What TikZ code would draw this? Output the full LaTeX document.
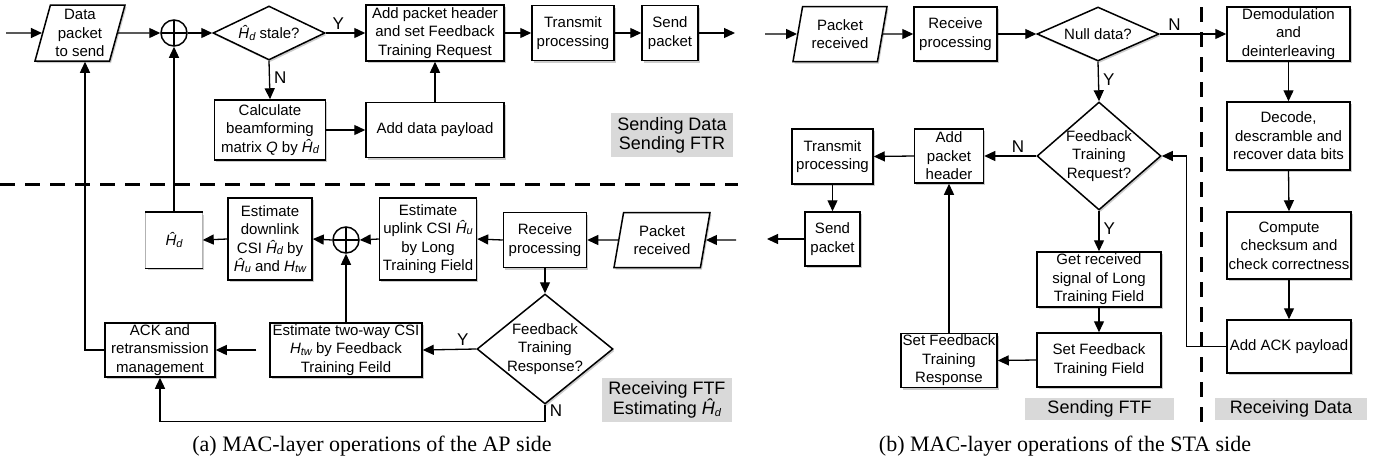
\documentclass[tikz,border=0pt]{standalone}
\usepackage{fontspec}
\setmainfont{Liberation Sans}
\newfontfamily\capfont{Liberation Serif}
\usetikzlibrary{arrows.meta,shapes.geometric,shadows}
\newcommand\mysub[1]{\raisebox{-1.2pt}{\fontsize{11}{11}\selectfont\itshape #1}}
\newcommand\hatHd{{\itshape Ĥ}\mysub{d}}
\newcommand\hatHu{{\itshape Ĥ}\mysub{u}}
\newcommand\myHtw{{\itshape H}\mysub{tw}}
\tikzset{
 shad/.style={drop shadow={shadow xshift=1.5pt, shadow yshift=-2pt, opacity=0.4}},
 bx/.style={draw, line width=1.5pt, fill=white, align=center, inner sep=0pt, font=\fontsize{15}{18.5}\selectfont, shad},
 pgram/.style={bx, trapezium, trapezium left angle=72, trapezium right angle=108, trapezium stretches body},
 dia/.style={draw, line width=1.5pt, fill=white, diamond, inner sep=0pt, shad},
 diatext/.style={align=center, inner sep=0pt, font=\fontsize{15}{18.5}\selectfont},
 plus/.style={circle, draw, line width=1.5pt, fill=white, minimum size=26pt, inner sep=0pt,
   path picture={\draw[line width=1.3pt] (path picture bounding box.north) -- (path picture bounding box.south)
   (path picture bounding box.west) -- (path picture bounding box.east);}},
 arr/.style={line width=1.3pt, -{Triangle[length=11pt,width=10pt]}},
 yn/.style={font=\fontsize{17}{17}\selectfont, inner sep=0pt},
 graylab/.style={fill=black!15, align=center, inner sep=0pt, font=\fontsize{18}{19}\selectfont},
 sep/.style={line width=3pt, dash pattern=on 15pt off 10pt},
 captxt/.style={font=\capfont\fontsize{22}{22}\selectfont, inner sep=0pt},
}
\begin{document}
\begin{tikzpicture}[x=1pt,y=-1pt]
\useasboundingbox (0,0) rectangle (1380,464);
% ---------------- AP side ----------------
\coordinate (in1) at (6,33);
\coordinate (out1) at (735,33);
\node[pgram, minimum width=90pt, minimum height=56pt] (data) at (80,33) {Data\\packet\\to send};
\node[plus] (c1) at (174,33) {};
\node[dia, minimum width=112pt, minimum height=54pt] (stale) at (269,33) {};
\node[diatext] (stalet) at (stale) {\hatHd\ stale?};
\node[bx, minimum width=138pt, minimum height=56pt] (hdr) at (435,33) {Add packet header\\and set Feedback\\Training Request};
\node[bx, minimum width=82pt, minimum height=55pt] (txp) at (573,33) {Transmit\\processing};
\node[bx, minimum width=56pt, minimum height=55pt] (snd) at (670,33) {Send\\packet};
\node[bx, minimum width=111pt, minimum height=60pt] (calc) at (270,130) {Calculate\\beamforming\\matrix \textit{Q} by \hatHd};
\node[bx, minimum width=138pt, minimum height=55pt] (pay) at (435,130) {Add data payload};
\node[graylab, minimum width=122pt, minimum height=44pt] (g1) at (672,135) {Sending Data\\Sending FTR};

\draw[sep] (0,184) -- (738,184);

\node[bx, draw=none, minimum width=56pt, minimum height=55pt] (hd) at (174,240) {\hatHd};
\draw[line width=1.2pt, black!30] (hd.north west) -- (hd.south west) (hd.north east) -- (hd.south east);
\draw[line width=1.5pt] (hd.north west) -- (hd.north east) (hd.south west) -- (hd.south east);
\node[bx, minimum width=84pt, minimum height=82pt] (dl) at (270,239) {Estimate\\downlink\\CSI \hatHd\ by\\\hatHu\ and \myHtw};
\node[plus] (c2) at (346,240) {};
\node[bx, minimum width=97pt, minimum height=82pt] (ul) at (428,239) {Estimate\\uplink CSI \hatHu\\by Long\\Training Field};
\node[bx, minimum width=83pt, minimum height=55pt] (rxp) at (545,240) {Receive\\processing};
\node[pgram, minimum width=96pt, minimum height=55pt] (pkt) at (662,240) {Packet\\received};
\coordinate (in2) at (736,240);
\node[dia, minimum width=136pt, minimum height=110pt] (resp) at (545,349) {};
\node[diatext] (respt) at (resp) {Feedback\\Training\\Response?};
\node[bx, minimum width=152pt, minimum height=54pt] (tw) at (346,350) {Estimate two-way CSI\\\myHtw\ by Feedback\\Training Feild};
\node[bx, minimum width=110pt, minimum height=54pt] (ack) at (160,350) {ACK and\\retransmission\\management};
\node[graylab, minimum width=130pt, minimum height=44pt] (g2) at (667,400) {Receiving FTF\\Estimating \hatHd};
\node[captxt] (capa) at (372,446) {(a) MAC-layer operations of the AP side};

\draw[arr] (in1) -- (data.west);
\draw[arr] (data.east) -- (c1.west);
\draw[arr] (c1.east) -- (stale.west);
\draw[arr] (stale.east) -- node[yn, above=3pt, pos=0.32] {Y} (hdr.west);
\draw[arr] (stale.south) -- node[yn, right=4pt, pos=0.45] {N} (calc.north);
\draw[arr] (calc.east) -- (pay.west);
\draw[arr] (pay.north) -- (hdr.south);
\draw[arr] (hdr.east) -- (txp.west);
\draw[arr] (txp.east) -- (snd.west);
\draw[arr] (snd.east) -- (out1);
\draw[arr] (in2) -- (pkt.east);
\draw[arr] (pkt.west) -- (rxp.east);
\draw[arr] (rxp.west) -- (ul.east);
\draw[arr] (ul.west) -- (c2.east);
\draw[arr] (c2.west) -- (dl.east);
\draw[arr] (dl.west) -- (hd.east);
\draw[arr] (hd.north) -- (c1.south);
\draw[arr] (rxp.south) -- (resp.north);
\draw[arr] (resp.west) -- node[yn, above=3pt, pos=0.25] {Y} (tw.east);
\draw[arr] (tw.north) -- (c2.south);
\draw[arr, shorten <=13pt] (tw.west) -- (ack.east);
\draw[arr] (resp.south) -- ++(0,17) -| (ack.south);
\node[yn] at ([xshift=11pt, yshift=-6pt]resp.south) {N};
\draw[arr] (ack.west) -| ([xshift=5pt]data.south);

% ---------------- STA side ----------------
\coordinate (in3) at (765,34);
\coordinate (out2) at (767,239);
\node[pgram, minimum width=94pt, minimum height=55pt] (pkt2) at (840,34) {Packet\\received};
\node[bx, minimum width=83pt, minimum height=54pt] (rxp2) at (955.5,34) {Receive\\processing};
\node[dia, minimum width=122pt, minimum height=54pt] (null) at (1098,34) {};
\node[diatext] (nullt) at (null) {Null data?};
\node[bx, minimum width=123pt, minimum height=54pt] (dem) at (1288.5,34) {Demodulation\\and\\deinterleaving};
\node[bx, minimum width=123pt, minimum height=68pt] (dec) at (1288.5,136) {Decode,\\descramble and\\recover data bits};
\node[bx, minimum width=124pt, minimum height=67pt] (chk) at (1289,245.5) {Compute\\checksum and\\check correctness};
\node[bx, minimum width=124pt, minimum height=53pt] (ackp) at (1289,346.5) {Add ACK payload};
\node[dia, minimum width=124pt, minimum height=108pt] (req) at (1099,156) {};
\node[diatext] (reqt) at (req) {Feedback\\Training\\Request?};
\node[bx, minimum width=69pt, minimum height=54pt] (ah) at (949,156) {Add\\packet\\header};
\node[bx, minimum width=81pt, minimum height=55pt] (txp2) at (832.5,156.5) {Transmit\\processing};
\node[bx, minimum width=55pt, minimum height=54pt] (snd2) at (832.5,239) {Send\\packet};
\node[bx, minimum width=124pt, minimum height=55pt] (gs) at (1099,279.5) {Get received\\signal of Long\\Training Field};
\node[bx, minimum width=124pt, minimum height=54pt] (sf) at (1099,360) {Set Feedback\\Training Field};
\node[bx, minimum width=96pt, minimum height=54pt] (sr) at (949,360.5) {Set Feedback\\Training\\Response};
\node[graylab, minimum width=149pt, minimum height=22pt] (g3) at (1099.5,408.5) {Sending FTF};
\node[graylab, minimum width=152pt, minimum height=22pt] (g4) at (1291,408.5) {Receiving Data};
\draw[sep] (1201,7) -- (1201,422);
\node[captxt] (capb) at (1065,446) {(b) MAC-layer operations of the STA side};

\draw[arr] (in3) -- (pkt2.west);
\draw[arr] (pkt2.east) -- (rxp2.west);
\draw[arr] (rxp2.east) -- (null.west);
\draw[arr] (null.east) -- node[yn, above=3pt, pos=0.22] {N} (dem.west);
\draw[arr] (dem.south) -- (dec.north);
\draw[arr] (dec.south) -- (chk.north);
\draw[arr] (chk.south) -- (ackp.north);
\draw[arr] (ackp.west) -- ++(-40,0) |- (req.east);
\draw[arr] (null.south) -- node[yn, right=4pt, pos=0.45] {Y} (req.north);
\draw[arr] (req.west) -- node[yn, above=3pt, pos=0.35] {N} (ah.east);
\draw[arr] (ah.west) -- (txp2.east);
\draw[arr] (txp2.south) -- (snd2.north);
\draw[arr] (snd2.west) -- (out2);
\draw[arr] (req.south) -- node[yn, right=4pt, pos=0.45] {Y} (gs.north);
\draw[arr] (gs.south) -- (sf.north);
\draw[arr] (sf.west) -- (sr.east);
\draw[arr] (sr.north) -- (ah.south);
\end{tikzpicture}
\end{document}
